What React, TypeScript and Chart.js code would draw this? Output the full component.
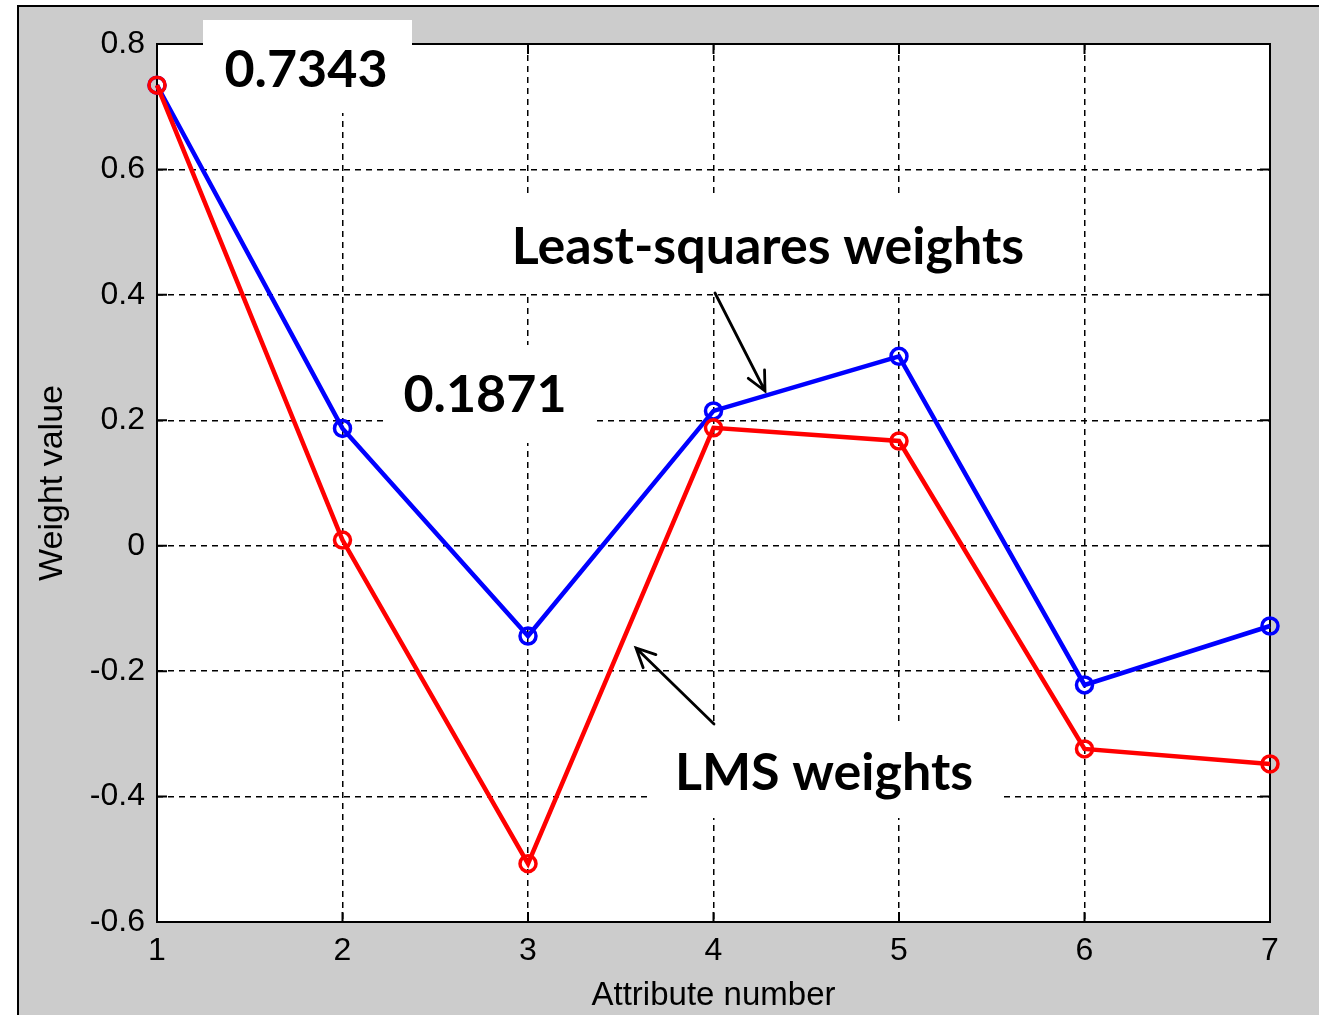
import React, { useEffect, useRef } from 'react';
import { Chart, registerables } from 'chart.js';

Chart.register(...registerables);

// ---- data ----
const attributeLabels = ['1', '2', '3', '4', '5', '6', '7'];
const leastSquaresWeights = [0.7343, 0.1871, -0.144, 0.215, 0.302, -0.222, -0.128];
const lmsWeights = [0.7343, 0.009, -0.507, 0.188, 0.167, -0.324, -0.348];
const yTickValues = [-0.6, -0.4, -0.2, 0, 0.2, 0.4, 0.6, 0.8];
const yTickLabels = ['-0.6', '-0.4', '-0.2', '0', '0.2', '0.4', '0.6', '0.8'];

const xTitle = 'Attribute number';
const yTitle = 'Weight value';

type Note = { text: string; box: [number, number, number, number]; cx: number; base: number };
const notes: Note[] = [
  { text: '0.7343', box: [203, 20, 209, 93], cx: 306, base: 87 },
  { text: '0.1871', box: [383, 345, 210, 98], cx: 485, base: 412 },
  { text: 'Least-squares weights', box: [495, 194, 550, 99], cx: 768, base: 264 },
  { text: 'LMS weights', box: [650, 725, 352, 93], cx: 824, base: 790 },
];
type Arrow = { from: [number, number]; to: [number, number] };
const arrows: Arrow[] = [
  { from: [715, 293], to: [765, 391] },
  { from: [714, 724], to: [636, 648] },
];

const TICK_FONT = { family: '"Liberation Sans", Arial, sans-serif', size: 32 };
const TITLE_FONT = { family: '"Liberation Sans", Arial, sans-serif', size: 33, lineHeight: 1.1 };

const matlabPlugin = {
  id: 'matlabLook',
  beforeDraw(chart: any) {
    const { ctx, chartArea: a } = chart;
    ctx.save();
    ctx.fillStyle = '#ffffff';
    ctx.fillRect(a.left, a.top, a.right - a.left, a.bottom - a.top);
    ctx.restore();
  },
  beforeDatasetsDraw(chart: any) {
    const { ctx, chartArea: a, scales } = chart;
    const xs = scales.x;
    const ys = scales.y;
    ctx.save();
    ctx.strokeStyle = '#000';
    ctx.lineWidth = 2;
    ctx.setLineDash([]);
    const tl = 10;
    ctx.beginPath();
    for (let i = 0; i < attributeLabels.length; i++) {
      const px = xs.getPixelForValue(i);
      ctx.moveTo(px, a.bottom);
      ctx.lineTo(px, a.bottom - tl);
      ctx.moveTo(px, a.top);
      ctx.lineTo(px, a.top + tl);
    }
    for (const v of yTickValues) {
      const py = ys.getPixelForValue(v);
      ctx.moveTo(a.left, py);
      ctx.lineTo(a.left + tl, py);
      ctx.moveTo(a.right, py);
      ctx.lineTo(a.right - tl, py);
    }
    ctx.stroke();
    ctx.strokeRect(a.left, a.top, a.right - a.left, a.bottom - a.top);

    // annotation boxes & texts
    for (const n of notes) {
      ctx.fillStyle = '#ffffff';
      ctx.fillRect(n.box[0], n.box[1], n.box[2], n.box[3]);
    }
    ctx.fillStyle = '#000';
    ctx.font = 'bold 52px Lato, "Open Sans", sans-serif';
    ctx.textAlign = 'center';
    ctx.textBaseline = 'alphabetic';
    for (const n of notes) {
      ctx.fillText(n.text, n.cx, n.base);
    }
    // arrows
    ctx.lineWidth = 2.8;
    ctx.lineCap = 'round';
    for (const ar of arrows) {
      const [x0, y0] = ar.from;
      const [x1, y1] = ar.to;
      const ang = Math.atan2(y1 - y0, x1 - x0);
      const L = 21;
      const spread = 0.45;
      ctx.beginPath();
      ctx.moveTo(x0, y0);
      ctx.lineTo(x1, y1);
      ctx.moveTo(x1 - L * Math.cos(ang - spread), y1 - L * Math.sin(ang - spread));
      ctx.lineTo(x1, y1);
      ctx.lineTo(x1 - L * Math.cos(ang + spread), y1 - L * Math.sin(ang + spread));
      ctx.stroke();
    }
    ctx.restore();
  },
};

export default function App() {
  const ref = useRef<HTMLCanvasElement | null>(null);
  useEffect(() => {
    document.body.style.margin = '0';
    const canvas = ref.current;
    if (!canvas) return;
    const chart = new Chart(canvas, {
      type: 'line',
      data: {
        labels: attributeLabels,
        datasets: [
          {
            label: 'LMS weights',
            data: lmsWeights,
            borderColor: '#ff0000',
            backgroundColor: 'rgba(0,0,0,0)',
            borderWidth: 4.5,
            pointRadius: 8,
            pointBorderWidth: 3.5,
            pointBackgroundColor: 'rgba(0,0,0,0)',
            pointBorderColor: '#ff0000',
            tension: 0,
            clip: false as any,
          },
          {
            label: 'Least-squares weights',
            data: leastSquaresWeights,
            borderColor: '#0000ff',
            backgroundColor: 'rgba(0,0,0,0)',
            borderWidth: 4.5,
            pointRadius: 8,
            pointBorderWidth: 3.5,
            pointBackgroundColor: 'rgba(0,0,0,0)',
            pointBorderColor: '#0000ff',
            tension: 0,
            clip: false as any,
          },
        ],
      },
      options: {
        responsive: false,
        animation: false,
        devicePixelRatio: 1,
        layout: { padding: { left: 0, right: 49, top: 44, bottom: 0 } },
        plugins: { legend: { display: false }, tooltip: { enabled: false } },
        scales: {
          x: {
            type: 'category',
            offset: false,
            grid: { color: '#000', lineWidth: 1.5, drawTicks: false },
            border: { display: false, dash: [6, 5] },
            ticks: { color: '#000', font: TICK_FONT, padding: 10, maxRotation: 0, autoSkip: false },
            title: { display: true, text: xTitle, color: '#000', font: TITLE_FONT, padding: { top: 0, bottom: 1 } },
            afterFit: (s: any) => { s.height = 93; },
          },
          y: {
            min: -0.6,
            max: 0.8,
            afterBuildTicks: (s: any) => { s.ticks = yTickValues.map((v) => ({ value: v })); },
            grid: { color: '#000', lineWidth: 1.5, drawTicks: false },
            border: { display: false, dash: [6, 5] },
            ticks: {
              color: '#000',
              font: TICK_FONT,
              padding: 12,
              callback: (_v: any, i: number) => yTickLabels[i],
            },
            title: { display: true, text: yTitle, color: '#000', font: { ...TITLE_FONT, size: 34, lineHeight: 1.2 }, padding: { top: 32, bottom: 0 } },
            afterFit: (s: any) => { s.width = 157; },
          },
        },
      },
      plugins: [matlabPlugin],
    });
    return () => chart.destroy();
  }, []);

  return (
    <div style={{ position: 'relative', width: 1319, height: 1015, background: '#fff', overflow: 'hidden' }}>
      <div
        style={{
          position: 'absolute',
          left: 17,
          top: 5,
          right: 0,
          bottom: 0,
          background: '#cccccc',
          borderLeft: '2px solid #000',
          borderTop: '2px solid #000',
        }}
      />
      <canvas ref={ref} width={1319} height={1015} style={{ position: 'absolute', left: 0, top: 0 }} />
    </div>
  );
}
